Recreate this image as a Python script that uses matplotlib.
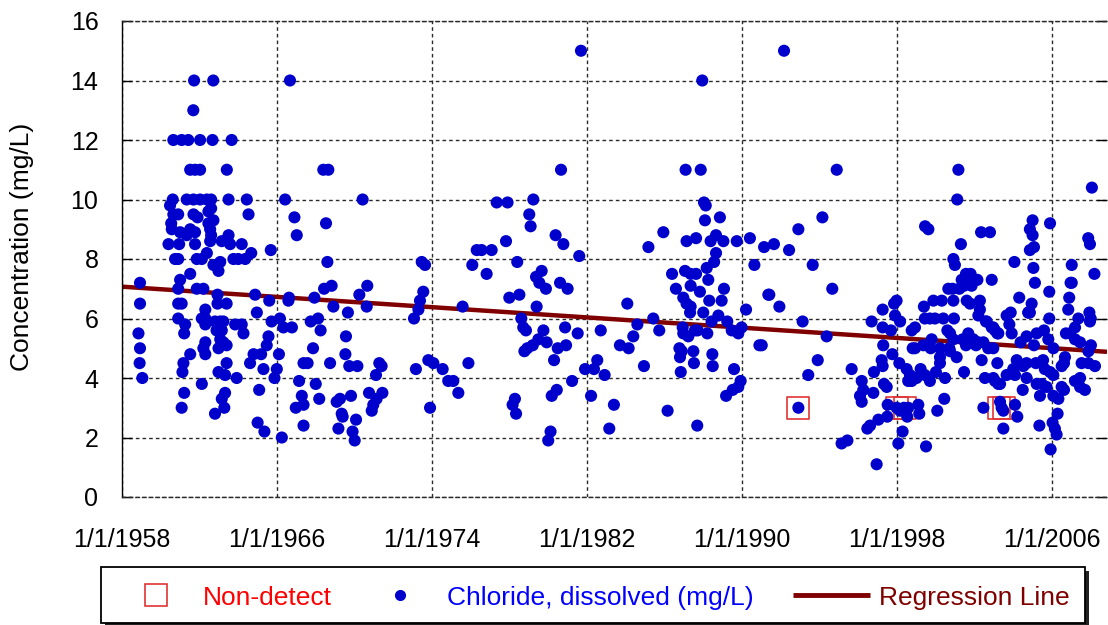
import matplotlib
matplotlib.use('Agg')
import matplotlib.pyplot as plt
from matplotlib.lines import Line2D
from matplotlib.patches import Rectangle

plt.rcParams['font.family'] = ['Liberation Sans', 'DejaVu Sans']

# ---------------- data ----------------
chloride = [
    (1960.65, 12.0), (1961.08, 12.0), (1961.42, 12.0), (1962.03, 12.0), (1962.67, 12.0), (1963.66, 12.0),
    (1961.72, 14.0), (1962.71, 14.0), (1966.67, 14.0), (1961.68, 13.0),
    (1961.52, 11.0), (1961.77, 11.0), (1962.03, 11.0), (1963.41, 11.0), (1968.39, 11.0), (1968.65, 11.0),
    (1960.62, 10.0), (1961.34, 10.0), (1961.69, 10.0), (1962.03, 10.0), (1962.38, 10.0), (1962.60, 10.0),
    (1963.50, 10.0), (1964.44, 10.0), (1966.42, 10.0), (1970.42, 10.0),
    (1960.48, 9.8), (1962.60, 9.7), (1962.46, 9.6), (1960.65, 9.5), (1960.90, 9.5), (1961.69, 9.5),
    (1961.90, 9.4), (1962.72, 9.3), (1964.53, 9.5), (1966.90, 9.4), (1960.54, 9.2), (1962.46, 9.2),
    (1960.57, 9.0), (1961.00, 8.9), (1961.52, 9.0), (1961.77, 8.9), (1962.55, 9.0), (1961.34, 8.8),
    (1962.60, 8.8), (1963.50, 8.8), (1967.02, 8.8), (1960.40, 8.5), (1960.95, 8.5), (1961.77, 8.5),
    (1962.55, 8.6), (1963.15, 8.6), (1963.58, 8.5), (1964.18, 8.5), (1965.68, 8.3),
    (1960.74, 8.0), (1960.90, 8.0), (1961.86, 8.0), (1962.12, 8.0), (1962.38, 8.2), (1963.75, 8.0),
    (1964.00, 8.0), (1964.36, 8.0), (1964.67, 8.2), (1962.72, 7.8), (1963.07, 7.9), (1962.98, 7.6),
    (1961.52, 7.5), (1961.00, 7.3), (1958.93, 7.2), (1960.90, 7.0), (1961.86, 7.0), (1962.20, 7.0),
    (1962.93, 6.8), (1964.87, 6.8), (1965.60, 6.6), (1966.59, 6.6), (1966.62, 6.7),
    (1958.93, 6.5), (1960.90, 6.5), (1961.08, 6.5), (1963.40, 6.5), (1962.93, 6.5), (1964.96, 6.2),
    (1962.30, 6.3), (1960.90, 6.0), (1962.12, 6.0), (1962.30, 6.0), (1962.80, 5.9), (1963.07, 5.9),
    (1963.23, 5.9), (1965.72, 5.9), (1966.15, 6.0), (1966.33, 5.7), (1966.77, 5.7), (1961.26, 5.8),
    (1962.30, 5.8), (1963.84, 5.8), (1964.18, 5.8), (1961.21, 5.5), (1964.27, 5.5), (1962.88, 5.6),
    (1963.15, 5.6), (1958.85, 5.5), (1958.93, 5.0), (1965.56, 5.4), (1965.47, 5.1), (1962.30, 5.2),
    (1963.07, 5.3), (1963.23, 5.2), (1963.40, 5.1), (1962.98, 5.0), (1962.20, 5.0), (1962.30, 4.8),
    (1961.52, 4.8), (1964.79, 4.8), (1965.18, 4.8), (1966.10, 4.8), (1961.17, 4.5), (1963.40, 4.5),
    (1964.61, 4.5), (1958.91, 4.5), (1961.12, 4.2), (1962.98, 4.2), (1963.32, 4.1), (1963.92, 4.0),
    (1965.30, 4.3), (1965.99, 4.3), (1965.87, 4.0), (1959.05, 4.0), (1962.12, 3.8), (1967.37, 4.5),
    (1961.21, 3.5), (1963.32, 3.5), (1963.15, 3.3), (1965.08, 3.6), (1967.14, 3.9), (1967.28, 3.4),
    (1961.08, 3.0), (1962.80, 2.8), (1963.28, 3.0), (1966.97, 3.0), (1967.37, 3.1), (1965.00, 2.5),
    (1965.35, 2.2), (1966.25, 2.0), (1967.37, 2.4),
    # 1967 - 1975
    (1968.53, 9.2), (1968.60, 7.9), (1968.82, 7.1), (1968.43, 7.0), (1970.66, 7.1), (1970.25, 6.8),
    (1970.63, 6.4), (1968.91, 6.4), (1967.93, 6.7), (1969.66, 6.2), (1968.12, 6.0), (1967.74, 5.9),
    (1968.25, 5.6), (1969.56, 5.4), (1967.86, 5.0), (1969.53, 4.8), (1967.58, 4.5), (1968.74, 4.5),
    (1969.73, 4.4), (1970.15, 4.4), (1971.28, 4.5), (1971.40, 4.4), (1971.11, 4.1), (1968.00, 3.8),
    (1968.18, 3.3), (1969.08, 3.2), (1969.25, 3.3), (1969.82, 3.4), (1969.34, 2.8), (1969.39, 2.7),
    (1969.17, 2.3), (1970.08, 2.6), (1969.90, 2.2), (1970.01, 1.9), (1970.75, 3.5), (1971.44, 3.5),
    (1971.14, 3.3), (1970.97, 3.1), (1970.89, 2.9), (1973.47, 7.9), (1973.64, 7.8), (1973.55, 6.9),
    (1973.38, 6.6), (1973.30, 6.3), (1973.07, 6.0), (1973.17, 4.3), (1973.90, 3.0), (1973.81, 4.6),
    (1974.07, 4.5), (1974.55, 4.3), (1974.84, 3.9),
    # 1975 - 1991
    (1976.31, 8.3), (1976.56, 8.3), (1977.08, 8.3), (1976.08, 7.8), (1976.82, 7.5), (1978.40, 7.9),
    (1981.60, 8.1), (1975.58, 6.4), (1977.99, 6.7), (1978.51, 6.8), (1979.40, 6.4), (1979.37, 7.4),
    (1979.66, 7.6), (1979.54, 7.2), (1979.88, 7.0), (1980.61, 7.2), (1981.00, 7.0), (1978.61, 6.0),
    (1978.71, 5.7), (1978.85, 5.6), (1979.75, 5.6), (1980.87, 5.7), (1981.52, 5.5), (1979.49, 5.3),
    (1979.92, 5.2), (1979.20, 5.1), (1978.92, 5.0), (1978.77, 4.9), (1980.49, 5.0), (1980.92, 5.1),
    (1980.30, 4.6), (1975.88, 4.5), (1975.10, 3.9), (1975.36, 3.5), (1978.28, 3.3), (1978.16, 3.1),
    (1978.34, 2.8), (1980.44, 3.6), (1980.18, 3.4), (1980.12, 2.2), (1980.00, 1.9), (1981.23, 3.9),
    (1981.90, 4.3), (1982.36, 4.3), (1982.53, 4.6), (1982.91, 4.1), (1982.21, 3.4), (1983.39, 3.1),
    (1983.15, 2.3), (1984.08, 6.5), (1984.60, 5.8), (1983.70, 5.1), (1984.15, 5.0), (1982.71, 5.6),
    (1985.42, 6.0), (1985.73, 5.6), (1984.39, 5.4), (1984.94, 4.4), (1986.16, 2.9), (1986.39, 7.5),
    (1987.06, 7.6), (1987.35, 7.5), (1987.63, 7.5), (1986.59, 7.0), (1987.35, 7.1), (1987.83, 6.9),
    (1988.18, 7.7), (1988.26, 7.3), (1988.56, 7.9), (1988.66, 8.2), (1986.97, 6.7), (1987.14, 6.5),
    (1987.35, 6.4), (1987.32, 6.2), (1988.00, 6.2), (1988.31, 6.6), (1988.95, 6.6), (1989.07, 7.0),
    (1988.78, 6.1), (1988.43, 5.9), (1989.24, 5.9), (1989.47, 5.6), (1989.81, 5.5), (1989.98, 5.7),
    (1988.21, 5.5), (1986.94, 5.7), (1987.23, 5.4), (1986.97, 5.5), (1987.57, 5.6), (1987.71, 5.6),
    (1986.77, 5.0), (1986.89, 4.9), (1986.80, 4.7), (1987.49, 4.9), (1988.47, 4.8), (1987.52, 4.5),
    (1988.49, 4.4), (1986.84, 4.2), (1989.59, 4.3), (1989.93, 3.9), (1989.81, 3.7), (1989.52, 3.6),
    (1989.18, 3.4), (1987.69, 2.4), (1990.21, 6.3), (1990.64, 7.8), (1990.90, 5.1), (1991.36, 6.8),
    (1981.69, 15.0), (1987.95, 14.0), (1980.66, 11.0), (1987.09, 11.0), (1987.87, 11.0),
    (1977.34, 9.9), (1977.90, 9.9), (1979.23, 10.0), (1979.02, 9.5), (1979.09, 9.1), (1980.38, 8.8),
    (1980.78, 8.5), (1977.82, 8.6), (1985.17, 8.4), (1985.94, 8.9), (1987.14, 8.6), (1987.63, 8.7),
    (1988.04, 9.9), (1988.13, 9.8), (1988.09, 9.3), (1988.86, 9.4), (1988.66, 8.8), (1988.38, 8.6),
    (1989.04, 8.6), (1989.73, 8.6), (1990.41, 8.7), (1991.14, 8.4),
    # 1991 - 2009
    (1992.17, 15.0), (1994.89, 11.0), (2001.17, 11.0), (2001.11, 10.0), (1994.15, 9.4), (1992.91, 9.0),
    (1991.65, 8.5), (1992.43, 8.3), (1999.45, 9.1), (1999.62, 9.0), (2002.34, 8.9), (2002.80, 8.9),
    (2005.00, 9.3), (2004.86, 9.0), (2005.00, 8.8), (2004.86, 8.3), (2005.07, 8.4), (2005.90, 9.2),
    (2007.87, 8.7), (2007.96, 8.5), (2008.06, 10.4), (2001.30, 8.5),
    (1993.65, 7.8), (1991.41, 6.8), (1991.93, 6.4), (1994.66, 7.0), (1993.13, 5.9), (1994.37, 5.4),
    (1991.02, 5.1), (1993.91, 4.6), (1993.42, 4.1), (1992.91, 3.0), (1995.66, 4.3), (1995.14, 1.8),
    (1995.44, 1.9), (1996.95, 1.1), (1996.18, 3.9), (1996.26, 3.6), (1996.09, 3.4), (1996.18, 3.2),
    (1996.78, 3.5), (1996.47, 2.3), (1996.61, 2.4), (1997.04, 2.6), (1996.81, 4.2), (1997.26, 6.3),
    (1996.69, 5.9), (1997.26, 5.7), (1997.69, 5.6), (1997.29, 5.1), (1997.21, 4.6), (1997.26, 4.4),
    (1997.33, 3.8), (1997.47, 3.7), (1997.76, 4.8), (1997.85, 6.5), (1997.98, 6.6), (1997.90, 6.1),
    (1998.16, 5.9), (1997.52, 3.1), (1997.50, 2.7), (1998.07, 1.8), (1998.29, 2.2), (1997.98, 3.0),
    (1998.16, 2.9), (1998.36, 3.0), (1998.58, 3.0), (1998.53, 2.7), (1999.10, 3.1), (1999.15, 2.8),
    (1999.50, 1.7), (2000.08, 2.9), (2000.44, 3.3), (1998.12, 4.5), (1998.50, 4.3), (1998.67, 4.1),
    (1998.58, 3.9), (1998.76, 3.9), (1999.01, 4.0), (1999.22, 4.3), (1999.44, 4.1), (1999.70, 3.9),
    (2000.01, 4.2), (2000.48, 4.0), (1998.81, 5.0), (1998.93, 5.0), (1999.36, 5.1), (1999.74, 5.0),
    (2000.22, 5.0), (2000.70, 5.0), (1999.79, 5.3), (1998.76, 5.6), (1998.93, 5.7), (2000.22, 4.7),
    (2000.22, 4.5), (2000.74, 4.9), (1999.39, 6.4), (1999.88, 6.6), (2000.31, 6.6), (1999.44, 6.0),
    (1999.70, 6.0), (1999.96, 6.0), (2000.39, 6.0), (2000.91, 6.6), (2000.91, 8.0), (2000.99, 7.8),
    (2000.65, 7.0), (2000.87, 7.0), (2001.22, 7.0), (2001.34, 7.3), (2001.56, 7.5), (2001.80, 7.5),
    (2001.73, 7.3), (2002.15, 7.3), (2001.46, 7.1), (2001.85, 7.1), (2001.60, 6.6), (2001.77, 6.5),
    (2002.28, 6.6), (2002.28, 6.3), (2002.20, 6.1), (2000.94, 6.0), (2000.60, 5.6), (2000.74, 5.5),
    (2001.39, 5.3), (2001.68, 5.5), (2001.94, 5.3), (2002.08, 5.1), (2002.20, 5.2), (2000.91, 5.3),
    (2001.56, 5.1), (2001.08, 4.7), (2001.46, 4.2), (2002.46, 5.2), (2002.71, 5.0), (2002.97, 5.0),
    (2002.37, 4.6), (2003.18, 4.5), (2002.54, 4.0), (2002.97, 4.0), (2003.06, 3.9), (2003.23, 3.8),
    (2003.32, 3.8), (2002.46, 3.0), (2003.32, 3.2), (2003.40, 3.0), (2003.49, 2.9), (2004.09, 3.1),
    (2004.21, 2.7), (2003.49, 2.3), (2002.59, 5.9), (2002.97, 5.7), (2003.18, 5.5), (2003.66, 6.1),
    (2003.87, 6.2), (2003.80, 5.8), (2003.92, 5.5), (2002.89, 7.3), (2004.06, 7.9), (2004.31, 6.7),
    (2004.95, 6.5), (2005.04, 7.7), (2005.12, 7.2), (2004.78, 6.2), (2004.69, 5.4), (2004.38, 5.2),
    (2005.07, 5.1), (2005.21, 5.5), (2005.59, 5.6), (2005.81, 5.3), (2006.07, 5.0), (2005.86, 6.0),
    (2005.86, 6.9), (2004.18, 4.6), (2004.69, 4.5), (2004.52, 4.4), (2003.66, 4.1), (2004.00, 4.3),
    (2004.09, 4.1), (2004.69, 4.0), (2004.49, 3.6), (2005.17, 4.5), (2005.54, 4.6), (2005.63, 4.3),
    (2005.90, 4.2), (2006.07, 4.1), (2005.21, 3.8), (2005.47, 3.8), (2005.72, 3.7), (2005.38, 3.4),
    (2006.07, 3.4), (2006.33, 3.3), (2006.50, 3.7), (2006.62, 3.6), (2006.29, 2.8), (2005.35, 2.4),
    (2006.03, 2.5), (2006.15, 2.3), (2006.24, 2.1), (2005.93, 1.6), (2006.50, 4.4), (2006.62, 4.5),
    (2006.67, 4.7), (2007.02, 7.8), (2006.96, 7.2), (2007.02, 7.2), (2006.89, 6.7), (2006.84, 6.3),
    (2006.72, 5.5), (2006.93, 5.5), (2007.19, 5.7), (2007.36, 6.0), (2007.19, 5.3), (2007.45, 5.2),
    (2008.19, 7.5), (2007.93, 6.2), (2008.00, 6.0), (2007.96, 5.9), (2007.88, 4.9), (2008.01, 5.1),
    (2007.53, 4.5), (2007.88, 4.5), (2008.22, 4.4), (2007.19, 3.9), (2007.45, 4.0), (2007.70, 3.6),
    (2007.45, 3.7),
    # extra points from the dense 2002-2004 band
    (2002.63, 5.9), (2002.89, 5.7), (2003.06, 5.6), (2003.23, 5.5), (2004.78, 6.2), (2004.86, 6.2),
]
chloride_years = [p[0] for p in chloride]
chloride_values = [p[1] for p in chloride]

nondetect_years = [1992.91, 1998.00, 1998.40, 2003.25, 2003.51]
nondetect_values = [3.0, 3.0, 3.0, 3.0, 3.0]

regression_years = [1958.0, 2008.84]
regression_values = [7.07, 4.88]

x_ticks = [1958, 1966, 1974, 1982, 1990, 1998, 2006]
x_tick_labels = ['1/1/1958', '1/1/1966', '1/1/1974', '1/1/1982', '1/1/1990', '1/1/1998', '1/1/2006']
y_ticks = [0, 2, 4, 6, 8, 10, 12, 14, 16]

# ---------------- figure ----------------
W, H = 1108, 625
fig = plt.figure(figsize=(W / 100, H / 100), dpi=100)
ax = fig.add_axes([122 / W, 1 - 497 / H, 985 / W, 476 / H])
ax.set_xlim(1958, 2008.84)
ax.set_ylim(0, 16)

grid_kw = dict(color='#2a2a2a', linestyle=(0, (2.6, 2.2)), linewidth=1.0)
ax.grid(True, **grid_kw)
ax.set_axisbelow(True)

ax.plot(regression_years, regression_values, color='#800000', lw=3.2, zorder=2,
        solid_capstyle='butt')
ax.scatter(nondetect_years, nondetect_values, marker='s', s=250, facecolors='none',
           edgecolors='#E03434', linewidths=1.2, zorder=2.5)
ax.scatter(chloride_years, chloride_values, s=76, color='#0000CC', edgecolors='none', zorder=3)

ax.set_xticks(x_ticks)
ax.set_xticklabels(x_tick_labels)
ax.set_yticks(y_ticks)
ax.tick_params(axis='x', length=0, pad=22, labelsize=18)
ax.tick_params(axis='y', direction='in', length=7, width=1, left=True, right=True,
               pad=17, labelsize=18)

ax.spines['left'].set_color('black')
ax.spines['left'].set_linewidth(1.0)
for s in ('top', 'bottom'):
    ax.spines[s].set_linestyle((0, (2.6, 2.2)))
    ax.spines[s].set_color('#2a2a2a')
    ax.spines[s].set_linewidth(1.0)
ax.spines['right'].set_visible(False)

fig.text(22 / W, 1 - 247 / H, 'Concentration (mg/L)', rotation=90, ha='center',
         va='center', fontsize=19)

# ---------------- legend (custom box) ----------------
bx0, bx1, by0, by1 = 101, 1085, 567, 623
shadow = Rectangle((bx0 / W + 4 / W, 1 - (by1 + 4) / H), (bx1 - bx0) / W, (by1 - by0) / H,
                   transform=fig.transFigure, facecolor='#222222', edgecolor='none', zorder=5)
box = Rectangle((bx0 / W, 1 - by1 / H), (bx1 - bx0) / W, (by1 - by0) / H,
                transform=fig.transFigure, facecolor='white', edgecolor='black',
                linewidth=1.3, zorder=6)
fig.add_artist(shadow)
fig.add_artist(box)

ymid = 1 - 595 / H
ybase = 1 - 605 / H
fig.add_artist(Line2D([156 / W], [ymid], marker='s', markersize=16, markerfacecolor='none',
                      markeredgecolor='#E03434', markeredgewidth=1.2, linestyle='none',
                      transform=fig.transFigure, zorder=7))
fig.text(203 / W, ybase, 'Non-detect', color='#FF0000', fontsize=19, va='baseline', zorder=7)
fig.add_artist(Line2D([400 / W], [ymid], marker='o', markersize=7, color='#0000CC',
                      linestyle='none', transform=fig.transFigure, zorder=7))
fig.text(447 / W, ybase, 'Chloride, dissolved (mg/L)', color='#0000FF', fontsize=19,
         va='baseline', zorder=7)
fig.add_artist(Line2D([793 / W, 870 / W], [ymid, ymid], color='#800000', lw=3.5,
                      transform=fig.transFigure, zorder=7, solid_capstyle='butt'))
fig.text(879 / W, ybase, 'Regression Line', color='#800000', fontsize=19, va='baseline',
         zorder=7)

fig.savefig('out.png', dpi=100)
